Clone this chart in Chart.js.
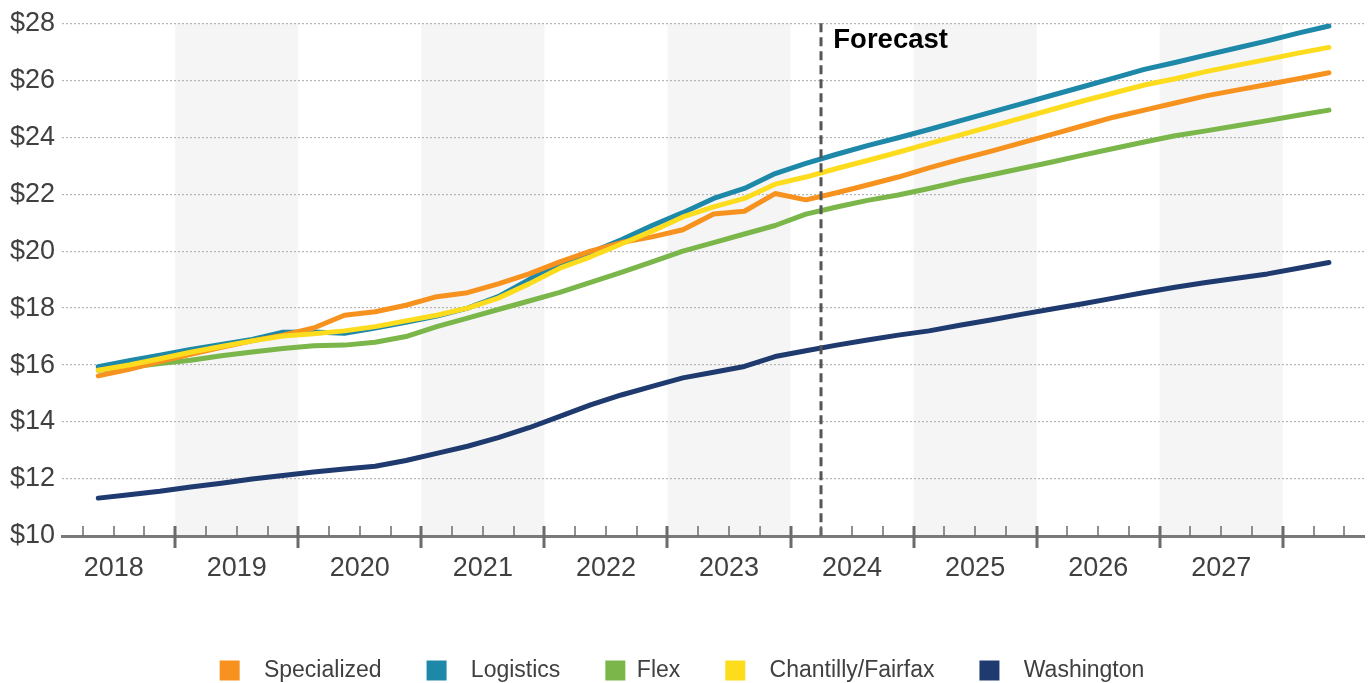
<!DOCTYPE html>
<html>
<head>
<meta charset="utf-8">
<script src="https://cdn.jsdelivr.net/npm/chart.js@4.4.1/dist/chart.umd.min.js"></script>
<style>
  html, body { margin: 0; padding: 0; background: #ffffff; }
  #wrap { width: 1369px; height: 683px; }
</style>
</head>
<body>
<div id="wrap"><canvas id="rents" width="1369" height="683"></canvas></div>
<script>
// Quarterly asking rents ($/SF), 2018 Q2 through 2028 Q2
const firstYear = 2018;
const firstQuarter = 2;
const quarterCount = 41;

const yearLabels = ['2018', '2019', '2020', '2021', '2022', '2023', '2024', '2025', '2026', '2027'];
const shadedYears = [2019, 2021, 2023, 2025, 2027];
const forecastStart = 2024.25; // start of 2024 Q2

const seriesNames = ['  Specialized', '  Logistics', 'Flex', '  Chantilly/Fairfax', '  Washington'];
const seriesColors = ['#F7921E', '#1D88A8', '#7AB64A', '#FDDB1D', '#1E3A6E'];

const specialized = [15.62, 15.85, 16.12, 16.38, 16.62, 16.85, 17.05, 17.3, 17.75, 17.87, 18.1, 18.4, 18.54, 18.85, 19.2, 19.62, 20.0, 20.3, 20.5, 20.75, 21.3, 21.4, 22.02, 21.8, 22.05, 22.32, 22.6, 22.92, 23.22, 23.5, 23.8, 24.1, 24.4, 24.7, 24.95, 25.2, 25.45, 25.65, 25.85, 26.05, 26.26];
const logistics = [15.94, 16.15, 16.35, 16.55, 16.72, 16.9, 17.15, 17.16, 17.12, 17.3, 17.5, 17.72, 18.0, 18.4, 19.0, 19.55, 19.95, 20.4, 20.9, 21.35, 21.85, 22.2, 22.72, 23.08, 23.4, 23.7, 23.98, 24.27, 24.57, 24.87, 25.17, 25.47, 25.77, 26.07, 26.38, 26.62, 26.88, 27.13, 27.38, 27.65, 27.9];
const flex = [15.82, 15.92, 16.05, 16.17, 16.33, 16.46, 16.58, 16.68, 16.7, 16.8, 17.0, 17.35, 17.65, 17.95, 18.25, 18.55, 18.9, 19.25, 19.62, 20.0, 20.3, 20.6, 20.9, 21.3, 21.55, 21.78, 21.97, 22.2, 22.45, 22.67, 22.9, 23.13, 23.37, 23.6, 23.83, 24.05, 24.22, 24.4, 24.58, 24.77, 24.95];
const chantillyFairfax = [15.82, 16.0, 16.22, 16.45, 16.65, 16.85, 17.02, 17.1, 17.2, 17.35, 17.55, 17.75, 18.0, 18.35, 18.85, 19.4, 19.8, 20.25, 20.7, 21.2, 21.55, 21.85, 22.35, 22.6, 22.9, 23.18, 23.47, 23.77, 24.07, 24.37, 24.67, 24.97, 25.27, 25.55, 25.83, 26.05, 26.3, 26.52, 26.73, 26.95, 27.15];
const washington = [11.33, 11.45, 11.57, 11.72, 11.85, 12.0, 12.12, 12.25, 12.35, 12.45, 12.65, 12.9, 13.15, 13.45, 13.8, 14.2, 14.6, 14.95, 15.25, 15.55, 15.75, 15.95, 16.3, 16.5, 16.7, 16.88, 17.05, 17.2, 17.4, 17.58, 17.78, 17.97, 18.15, 18.35, 18.55, 18.73, 18.9, 19.05, 19.2, 19.4, 19.6];

const seriesValues = [specialized, logistics, flex, chantillyFairfax, washington];
const drawOrder = [2, 4, 3, 1, 0]; // lower numbers are painted on top

// Each quarter sits at the middle of its quarter-year slot on a continuous year axis
const quarterPositions = [];
for (let i = 0; i < quarterCount; i++) {
  const idx = (firstQuarter - 1) + i;
  const year = firstYear + Math.floor(idx / 4);
  const q = idx % 4;
  quarterPositions.push(year + (q + 0.5) / 4);
}

const FONT = "'Liberation Sans', Arial, sans-serif";
const TEXT = '#404040';

const datasets = seriesNames.map((name, s) => ({
  label: name,
  data: seriesValues[s].map((v, i) => ({ x: quarterPositions[i], y: v })),
  borderColor: seriesColors[s],
  backgroundColor: seriesColors[s],
  borderWidth: 5,
  borderCapStyle: 'round',
  borderJoinStyle: 'round',
  pointRadius: 0,
  pointHoverRadius: 0,
  tension: 0,
  order: drawOrder[s]
}));

const decorations = {
  id: 'decorations',
  beforeDraw(chart) {
    const { ctx, chartArea: a, scales: { x } } = chart;
    ctx.save();
    ctx.fillStyle = '#f5f5f5';
    shadedYears.forEach(yr => {
      const l = x.getPixelForValue(yr);
      const r = x.getPixelForValue(yr + 1);
      ctx.fillRect(l, a.top, r - l, a.bottom - a.top);
    });
    ctx.restore();
  },
  afterDatasetsDraw(chart) {
    const { ctx, chartArea: a, scales: { x } } = chart;
    const fx = Math.round(x.getPixelForValue(forecastStart));
    ctx.save();
    ctx.strokeStyle = '#555555';
    ctx.lineWidth = 3;
    ctx.setLineDash([9, 5]);
    ctx.beginPath();
    ctx.moveTo(fx, a.top);
    ctx.lineTo(fx, a.bottom);
    ctx.stroke();
    ctx.restore();
  },
  afterDraw(chart) {
    const { ctx, chartArea: a, scales: { x } } = chart;
    ctx.save();
    // quarter ticks, with longer year ticks
    ctx.strokeStyle = '#6b6b6b';
    for (let i = 1; ; i++) {
      const v = firstYear + i / 4;
      if (v > x.max) break;
      const px = Math.round(x.getPixelForValue(v));
      const major = i % 4 === 0;
      ctx.lineWidth = major ? 3 : 1.5;
      ctx.beginPath();
      ctx.moveTo(px, a.bottom - 10);
      ctx.lineTo(px, major ? a.bottom + 12 : a.bottom);
      ctx.stroke();
    }
    // forecast label
    const fx = x.getPixelForValue(forecastStart);
    ctx.fillStyle = '#000000';
    ctx.font = 'bold 27.5px ' + FONT;
    ctx.textAlign = 'left';
    ctx.textBaseline = 'alphabetic';
    ctx.fillText('Forecast', fx + 12, 48);
    ctx.restore();
  }
};

new Chart(document.getElementById('rents'), {
  type: 'line',
  data: { datasets },
  plugins: [decorations],
  options: {
    responsive: false,
    animation: false,
    events: [],
    layout: { padding: { left: 0, right: 5, top: 23, bottom: 0 } },
    scales: {
      x: {
        type: 'linear',
        min: 2018.08,
        max: 2028.66,
        grid: { display: false, drawTicks: false },
        border: { display: true, color: '#7a7a7a', width: 3 },
        afterBuildTicks(scale) {
          scale.ticks = yearLabels.map(y => ({ value: Number(y) + 0.5 }));
        },
        afterFit(scale) { scale.height = 78; },
        ticks: {
          autoSkip: false,
          maxRotation: 0,
          padding: 16,
          color: TEXT,
          font: { family: FONT, size: 27 },
          callback: v => String(Math.floor(v))
        }
      },
      y: {
        min: 10,
        max: 28,
        afterFit(scale) { scale.width = 62; },
        border: { display: false, dash: [2, 2] },
        grid: {
          drawTicks: false,
          lineWidth: 1.2,
          color: ctx => (ctx.tick && ctx.tick.value === 10) ? 'rgba(0,0,0,0)' : '#b5b5b5'
        },
        ticks: {
          stepSize: 2,
          padding: 7,
          color: TEXT,
          font: { family: FONT, size: 27 },
          callback: v => '$' + v
        }
      }
    },
    plugins: {
      tooltip: { enabled: false },
      legend: {
        position: 'bottom',
        maxHeight: 69,
        labels: {
          boxWidth: 20,
          boxHeight: 20,
          padding: 45,
          color: TEXT,
          font: { family: FONT, size: 23 },
          generateLabels(chart) {
            return Chart.defaults.plugins.legend.labels.generateLabels(chart)
              .map(item => Object.assign({}, item, { lineWidth: 0, fillStyle: item.strokeStyle }))
              .sort((a, b) => a.datasetIndex - b.datasetIndex);
          }
        }
      }
    }
  }
});
</script>
</body>
</html>
